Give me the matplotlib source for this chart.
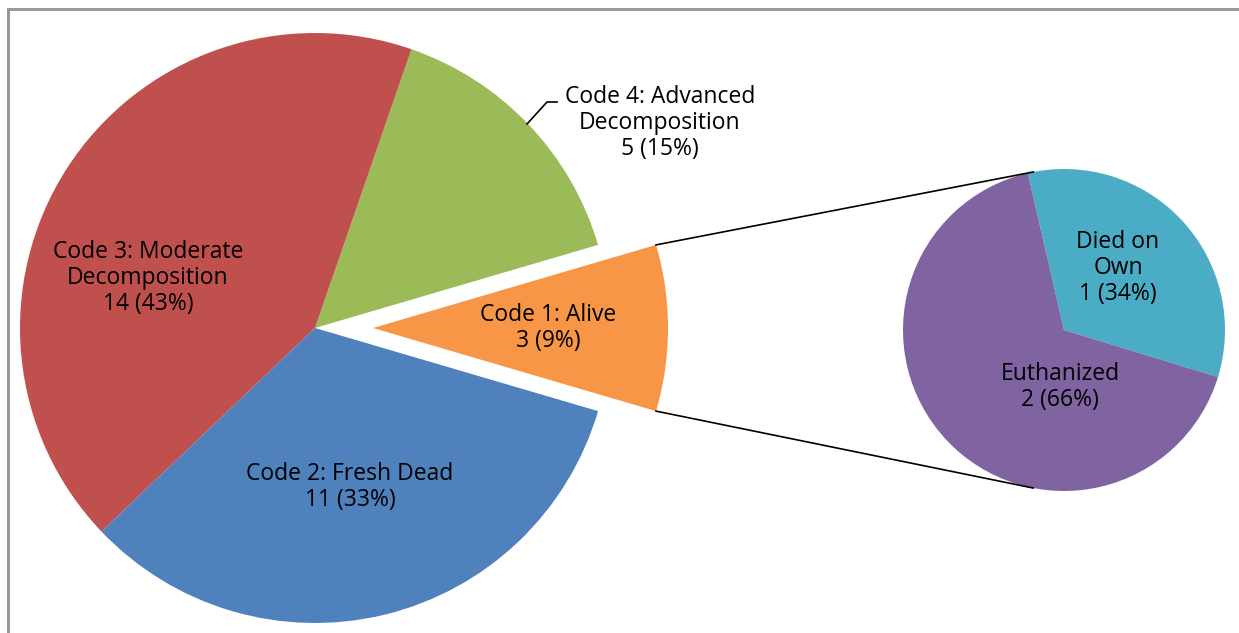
import numpy as np
import matplotlib
matplotlib.use('Agg')
import matplotlib.pyplot as plt
from matplotlib.patches import Rectangle

plt.rcParams['font.family'] = ['Open Sans', 'DejaVu Sans']

# main pie, counter-clockwise starting from the exploded slice
main_labels = ['Code 1: Alive', 'Code 4: Advanced\nDecomposition',
               'Code 3: Moderate\nDecomposition', 'Code 2: Fresh Dead']
main_counts = [3, 5, 14, 11]
main_pcts = ['9%', '15%', '43%', '33%']
main_colors = ['#F79646', '#9BBB59', '#C0504D', '#4F81BD']

# secondary pie (breakdown of Code 1)
sub_labels = ['Died on\nOwn', 'Euthanized']
sub_counts = [1, 2]
sub_pcts = ['34%', '66%']
sub_colors = ['#4BACC6', '#8064A2']

W, H = 1239, 633
fig = plt.figure(figsize=(W / 100, H / 100), dpi=100)
ax = fig.add_axes([0, 0, 1, 1])

# frame (right / bottom sides are cut off in the original)
fig.patches.append(Rectangle((8 / W, -0.1), 1.2, (H - 9.5) / H + 0.1,
                             transform=fig.transFigure, fill=False,
                             edgecolor='#999999', lw=2.2))

c1 = (315, H - 328)
r1 = 295
expl = 58
half = 360 * main_counts[0] / sum(main_counts) / 2
ax.pie(main_counts, colors=main_colors, startangle=-half,
       explode=[expl, 0, 0, 0], radius=r1, center=c1, frame=True,
       wedgeprops=dict(linewidth=0))

c2 = (1064, H - 330)
r2 = 161
ax.pie(sub_counts, colors=sub_colors, startangle=-17, radius=r2, center=c2,
       frame=True, wedgeprops=dict(linewidth=0))

ax.set_xlim(0, W)
ax.set_ylim(0, H)
ax.set_aspect('equal')
ax.axis('off')

# connector lines between orange slice and secondary pie
apex = (c1[0] + expl, c1[1])
for sgn in (1, -1):
    a = np.radians(sgn * half)
    p1 = (apex[0] + r1 * np.cos(a), apex[1] + r1 * np.sin(a))
    b = np.radians(sgn * 101)
    p2 = (c2[0] + r2 * np.cos(b), c2[1] + r2 * np.sin(b))
    ax.plot([p1[0], p2[0]], [p1[1], p2[1]], color='black', lw=1.2)

fs = 16.5
txt = [f'{l}\n{n} ({p})' for l, n, p in zip(main_labels, main_counts, main_pcts)]
ax.text(548, H - 328, txt[0], ha='center', va='center', fontsize=fs, linespacing=1.12)
ax.text(660, H - 123, txt[1], ha='center', va='center', fontsize=fs, linespacing=1.12)
ax.text(148, H - 278, txt[2], ha='center', va='center', fontsize=fs, linespacing=1.12)
ax.text(350, H - 487, txt[3], ha='center', va='center', fontsize=fs, linespacing=1.12)
# leader line for Code 4
ax.plot([527, 547, 557], [H - 124, H - 102, H - 102], color='black', lw=1.2)

stxt = [f'{l}\n{n} ({p})' for l, n, p in zip(sub_labels, sub_counts, sub_pcts)]
ax.text(1118, H - 268, stxt[0], ha='center', va='center', fontsize=fs, linespacing=1.12)
ax.text(1060, H - 387, stxt[1], ha='center', va='center', fontsize=fs, linespacing=1.12)

fig.savefig('out.png', dpi=100)
